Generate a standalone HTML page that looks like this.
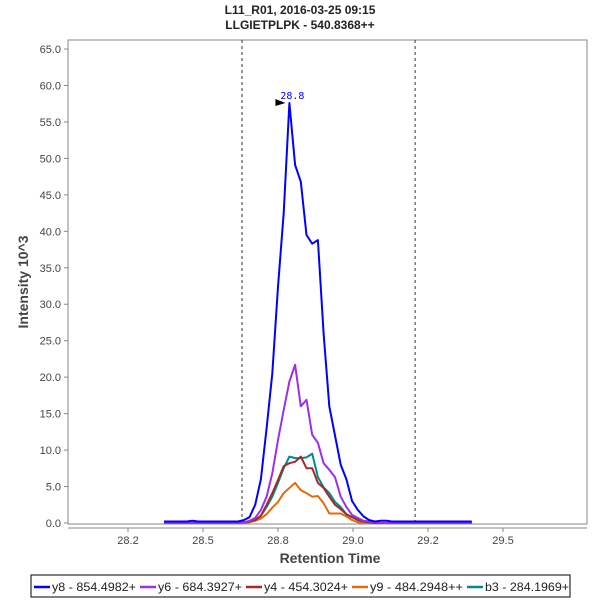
<!DOCTYPE html>
<html><head><meta charset="utf-8"><style>
body{margin:0;background:#fff;font-family:"Liberation Sans",sans-serif}
</style></head><body>
<svg id="c" width="600" height="600" xmlns="http://www.w3.org/2000/svg">
<text x="300" y="14" text-anchor="middle" font-size="12" font-weight="bold" fill="#222">L11_R01, 2016-03-25 09:15</text>
<text x="300" y="29" text-anchor="middle" font-size="12" font-weight="bold" fill="#222">LLGIETPLPK - 540.8368++</text>
<rect x="68" y="40" width="519" height="484" fill="#fff" stroke="#888"/>
<g id="axes"></g>
<g id="series"></g>
<text x="330" y="563" text-anchor="middle" font-size="14" font-weight="bold" fill="#444">Retention Time</text>
<text transform="translate(28,282) rotate(-90)" text-anchor="middle" font-size="14" font-weight="bold" fill="#444">Intensity 10^3</text>
<rect x="31" y="575" width="539" height="22" fill="#fff" stroke="#000"/>
<g id="legend"></g>
</svg>
<script>
const times=[28.370,28.389,28.408,28.427,28.446,28.465,28.484,28.503,28.522,28.541,28.560,28.579,28.598,28.617,28.636,28.655,28.674,28.693,28.712,28.731,28.750,28.769,28.788,28.807,28.826,28.845,28.864,28.883,28.902,28.921,28.940,28.959,28.978,28.997,29.016,29.035,29.054,29.073,29.092,29.111,29.130,29.149,29.168,29.187,29.206,29.225,29.244,29.263,29.282,29.301,29.320,29.339,29.358,29.377,29.396];
const y8=[0.2,0.2,0.2,0.2,0.2,0.3,0.2,0.2,0.2,0.2,0.2,0.2,0.2,0.2,0.4,0.8,2.5,6,13,20.5,32.4,42.5,57.6,49.1,46.8,39.5,38.3,38.8,26,16,12,8,6,3,1.8,0.9,0.4,0.2,0.3,0.3,0.2,0.2,0.2,0.2,0.2,0.2,0.2,0.2,0.2,0.2,0.2,0.2,0.2,0.2,0.2];
const y6=[0,0,0,0,0,0,0,0,0,0,0,0,0,0,0.1,0.3,0.7,1.8,3.6,6.8,11.4,15.5,19.4,21.7,16,16.9,12.1,11,8.2,7.3,6.3,3.6,2.2,1.1,0.7,0.3,0.2,0.1,0,0,0,0,0,0,0,0,0,0,0,0,0,0,0,0,0];
const y4=[0,0,0,0,0,0,0,0,0,0,0,0,0,0,0.1,0.2,0.4,1.0,2.5,4.1,5.9,7.8,8.2,8.4,9.1,7.5,7.5,5.5,4.8,3.6,2.5,1.9,1.2,0.8,0.5,0.2,0.1,0,0,0,0,0,0,0,0,0,0,0,0,0,0,0,0,0,0];
const y9=[0,0,0,0,0,0,0,0,0,0,0,0,0,0,0,0.1,0.3,0.6,1.2,2.1,2.9,4.1,4.8,5.5,4.5,4.1,3.6,3.7,2.7,1.3,1.3,1.3,0.9,0.4,0.1,0,0,0,0,0,0,0,0,0,0,0,0,0,0,0,0,0,0,0,0];
const b3=[0,0,0,0,0,0,0,0,0,0,0,0,0,0,0.1,0.2,0.4,1.0,2.2,3.6,5.5,7.5,9.1,8.9,8.9,9.0,9.5,6.3,4.9,4.1,2.9,2.2,1.2,0.8,0.4,0.2,0.1,0,0,0,0,0,0,0,0,0,0,0,0,0,0,0,0,0,0];
const xTickVals=[28.25,28.5,28.75,29.0,29.25,29.5];
const xTickLabels=["28.2","28.5","28.8","29.0","29.2","29.5"];
const yTickVals=[0,5,10,15,20,25,30,35,40,45,50,55,60,65];
const markers=[28.63,29.207];
const peakTime=28.788, peakVal=57.6, peakLabel="28.8";
const NS="http://www.w3.org/2000/svg";
const X=t=>203+(t-28.5)*300;
const Y=v=>523-v*7.292;
function mk(tag,attrs,parent){const e=document.createElementNS(NS,tag);for(const k in attrs)e.setAttribute(k,attrs[k]);parent.appendChild(e);return e;}
const ax=document.getElementById('axes');
yTickVals.forEach(v=>{
 const l=mk('line',{x1:64,x2:68,y1:Y(v),y2:Y(v),stroke:'#888'},ax);
 
 
 const t=mk('text',{x:61,y:Y(v)+4,'text-anchor':'end','font-size':11,fill:'#444'},ax);t.textContent=v.toFixed(1);
 
 
});
xTickVals.forEach((v,i)=>{
 const l=mk('line',{x1:X(v),x2:X(v),y1:528,y2:532,stroke:'#888'},ax);
 
 
 const t=mk('text',{x:X(v),y:544,'text-anchor':'middle','font-size':11,fill:'#444'},ax);t.textContent=xTickLabels[i];
 
 
});
mk('line',{x1:68,x2:587,y1:528,y2:528,stroke:'#888'},ax);
markers.forEach(m=>{
 const l=mk('line',{x1:X(m),x2:X(m),y1:40,y2:524,stroke:'#333','stroke-dasharray':'3,3'},ax);
 
 
});
const ser=[["y8 - 854.4982+",y8,"#0000ff"],["y6 - 684.3927+",y6,"#9b30e8"],["y4 - 454.3024+",y4,"#a52a2a"],["y9 - 484.2948++",y9,"#e06c10"],["b3 - 284.1969+",b3,"#008b8b"]];
const sg=document.getElementById('series');
[3,4,2,1,0].forEach(k=>{
 const [n,d,c]=ser[k];
 const p=mk('polyline',{points:d.map((v,i)=>X(times[i]).toFixed(1)+','+Y(v).toFixed(1)).join(' '),fill:'none',stroke:c,'stroke-width':2,'stroke-linejoin':'round'},sg);
 
 
});
const pl=mk('text',{x:X(peakTime)+3,y:Y(peakVal)-4,'text-anchor':'middle','font-size':10,fill:'#0000ff','font-family':'DejaVu Sans Mono, monospace'},sg);pl.textContent=peakLabel;


const pa=mk('polygon',{points:`${X(peakTime)-14},${Y(peakVal)-4} ${X(peakTime)-4},${Y(peakVal)} ${X(peakTime)-14},${Y(peakVal)+3}`,fill:'#000'},sg);


const lg=document.getElementById('legend');
const lx=[34,140,246,352,467];
const lw=[84,84,84,93,84];
ser.forEach(([n,d,c],i)=>{
 const g=mk('g',{},lg);
 
 
 mk('line',{x1:lx[i],x2:lx[i]+16,y1:587,y2:587,stroke:c,'stroke-width':2.5},g);
 const t=mk('text',{x:lx[i]+18,y:591,'font-size':12,fill:'#222',textLength:lw[i],lengthAdjust:'spacingAndGlyphs'},g);t.textContent=n;
});
</script>
</body></html>
